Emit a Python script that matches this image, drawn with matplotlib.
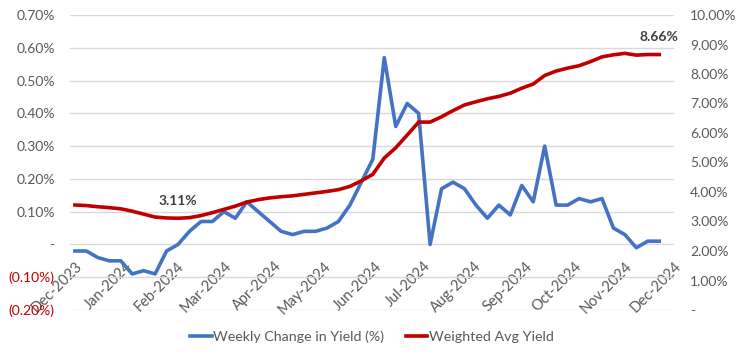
import numpy as np
import pandas as pd
import matplotlib
matplotlib.use("Agg")
import matplotlib.pyplot as plt
import matplotlib.dates as mdates
from matplotlib.ticker import FixedLocator, FuncFormatter

plt.rcParams['font.family'] = ['Lato', 'DejaVu Sans']

# weekly observations
dates = pd.date_range("2023-12-01", periods=52, freq="7D")

weekly_change = [-0.02, -0.02, -0.04, -0.05, -0.05, -0.09, -0.08, -0.09, -0.02, 0.00,
                 0.04, 0.07, 0.07, 0.10, 0.08, 0.13, 0.10, 0.07, 0.04, 0.03,
                 0.04, 0.04, 0.05, 0.07, 0.12, 0.19, 0.26, 0.57, 0.36, 0.43,
                 0.40, 0.00, 0.17, 0.19, 0.17, 0.12, 0.08, 0.12, 0.09, 0.18,
                 0.13, 0.30, 0.12, 0.12, 0.14, 0.13, 0.14, 0.05, 0.03, -0.01,
                 0.01, 0.01]

wavg_yield = [3.56, 3.54, 3.50, 3.47, 3.43, 3.35, 3.25, 3.15, 3.12, 3.11,
              3.13, 3.20, 3.30, 3.41, 3.52, 3.66, 3.74, 3.80, 3.84, 3.87,
              3.92, 3.97, 4.02, 4.08, 4.19, 4.38, 4.60, 5.15, 5.50, 5.93,
              6.37, 6.37, 6.55, 6.76, 6.95, 7.06, 7.16, 7.24, 7.35, 7.52,
              7.66, 7.95, 8.10, 8.20, 8.28, 8.42, 8.58, 8.65, 8.70, 8.64,
              8.66, 8.66]

month_ticks = pd.date_range("2023-12-01", "2024-12-01", freq="MS")

blue = "#4472C4"
red = "#C00000"
grey = "#595959"

fig = plt.figure(figsize=(7.45, 3.55), dpi=100)
ax = fig.add_axes([70/745, 1-310/355, 604/745, 295/355])
ax2 = ax.twinx()

l1, = ax.plot(dates, weekly_change, color=blue, lw=2.6, solid_joinstyle='round',
              label="Weekly Change in Yield (%)")
l2, = ax2.plot(dates, wavg_yield, color=red, lw=2.6, solid_joinstyle='round',
               label="Weighted Avg Yield")

ax.set_ylim(-0.2, 0.7)
ax2.set_ylim(0, 10)
ax.set_xlim(pd.Timestamp("2023-11-28"), pd.Timestamp("2024-11-30"))

ax.yaxis.set_major_locator(FixedLocator(np.arange(-0.2, 0.71, 0.1)))
ax2.yaxis.set_major_locator(FixedLocator(np.arange(0, 10.1, 1)))

def left_fmt(v, pos):
    if abs(v) < 1e-9:
        return "-"
    if v < 0:
        return "(%.2f%%)" % abs(v)
    return "%.2f%%" % v

def right_fmt(v, pos):
    if abs(v) < 1e-9:
        return "-"
    return "%.2f%%" % v

ax.yaxis.set_major_formatter(FuncFormatter(left_fmt))
ax2.yaxis.set_major_formatter(FuncFormatter(right_fmt))

ax.grid(axis='y', color="#D9D9D9", lw=1)
ax.set_axisbelow(True)
for a in (ax, ax2):
    for s in a.spines.values():
        s.set_visible(False)
    a.tick_params(length=0)

ax.tick_params(axis='y', labelsize=10, labelcolor=grey, pad=11)
ax2.tick_params(axis='y', labelsize=10, labelcolor=grey, pad=11.5)

# x labels hang off the zero line
ax.spines['bottom'].set_position(('data', 0))
ax.set_xticks(month_ticks)
ax.xaxis.set_major_formatter(mdates.DateFormatter("%b-%Y"))
ax.tick_params(axis='x', labelsize=10.5, labelcolor=grey, pad=10.5)

fig.canvas.draw()
for lbl in ax.get_yticklabels():
    if lbl.get_text().startswith("("):
        lbl.set_color(red)
for lbl in ax.get_xticklabels():
    lbl.set_rotation(45)
    lbl.set_ha('right')
    lbl.set_va('top')
    lbl.set_rotation_mode('anchor')

ax2.annotate("3.11%", (dates[9], wavg_yield[9]), xytext=(0, 8), textcoords='offset points',
             ha='center', va='bottom', fontsize=10, fontweight='bold', color="#404040")
ax2.annotate("8.66%", (dates[-1], wavg_yield[-1]), xytext=(0, 8), textcoords='offset points',
             ha='center', va='bottom', fontsize=10, fontweight='bold', color="#404040")

fig.legend(handles=[l1, l2], loc='center', bbox_to_anchor=(372/745, 1-337/355),
           ncol=2, frameon=False, fontsize=10.3, labelcolor=grey,
           handlelength=1.5, handletextpad=0.1, columnspacing=1.5)

fig.savefig("out.png", dpi=100)
